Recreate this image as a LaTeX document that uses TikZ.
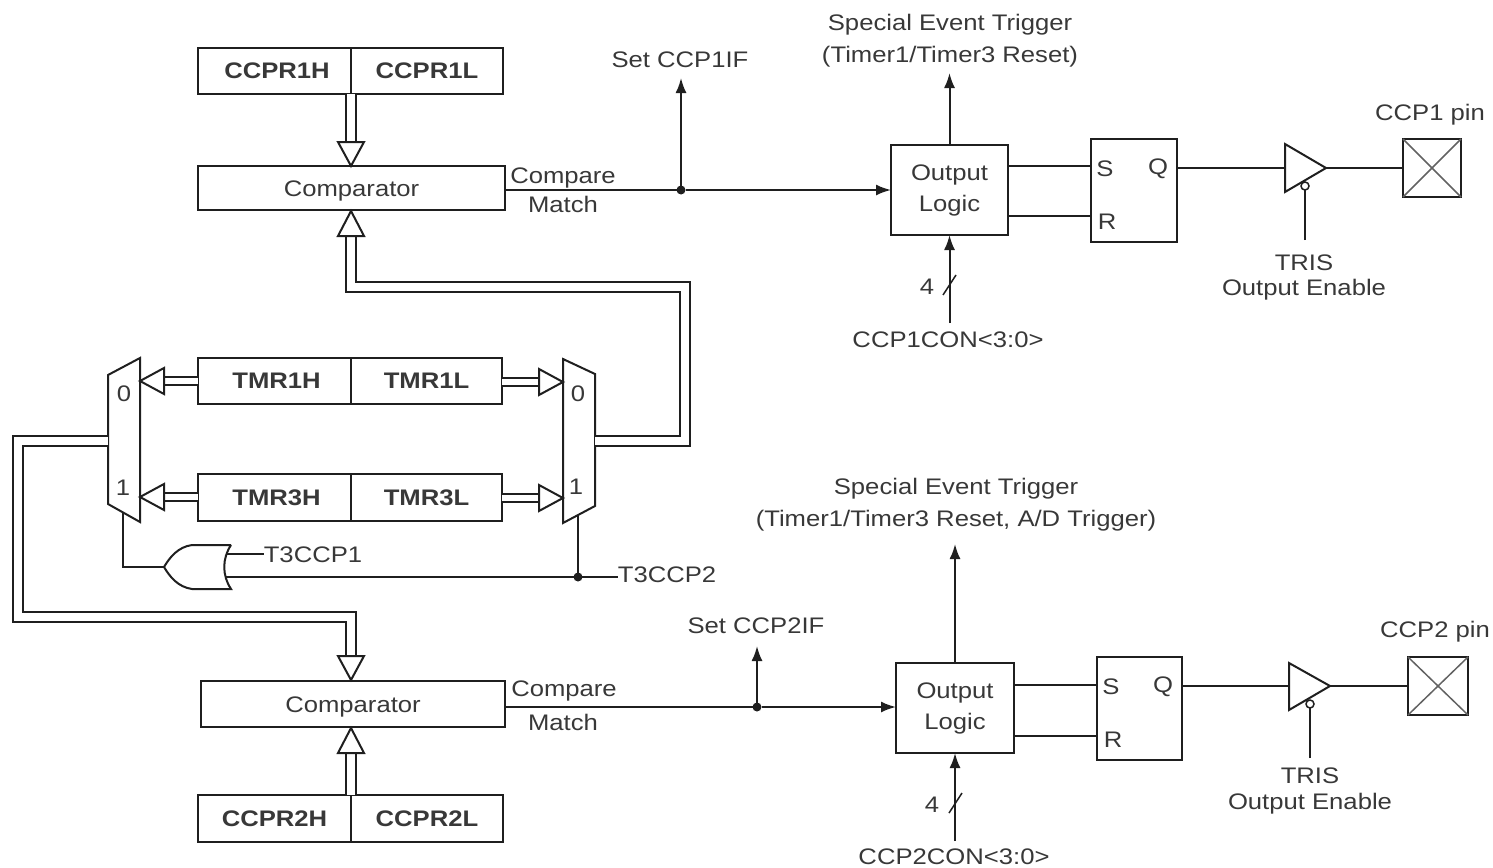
\documentclass[tikz,border=0pt]{standalone}
\usepackage{fontspec}
\setmainfont[FakeStretch=1.14]{Liberation Sans}
\usetikzlibrary{arrows.meta}
\definecolor{ink}{gray}{0.12}
\definecolor{txt}{gray}{0.22}
\tikzset{
  every node/.style={inner sep=0pt,outer sep=0pt,text=txt,font=\fontsize{22.5}{27}\selectfont},
  wire/.style={draw=ink,line width=2pt},
  sig/.style={wire,-{Latex[length=15pt,width=11pt]}},
  bus/.style={draw=ink,double=white,double distance=7.5pt,line width=2pt},
  hbus/.style={bus,double distance=6pt},
  head/.style={draw=ink,fill=white,line width=2pt,line join=miter},
  box/.style={draw=ink,line width=2pt,rectangle,anchor=north west},
  cmp/.style={box,text height=16pt,text depth=0pt},
  reg/.style={box,font=\fontsize{22.5}{27}\selectfont\bfseries},
  lbl/.style={align=center},
  dot/.style={circle,fill=ink,minimum size=9pt},
  pin/.style={draw=ink,line width=2pt,rectangle,anchor=north west},
  cross/.style={draw=ink!70,line width=1.5pt},
  bubble/.style={circle,draw=ink,line width=1.5pt,fill=white,minimum size=8pt},
}
\newcommand{\headD}[1]{\draw[head] ([xshift=-13pt,yshift=24pt]#1) -- (#1) -- ([xshift=13pt,yshift=24pt]#1) -- cycle;}
\newcommand{\headU}[1]{\draw[head] ([xshift=-13pt,yshift=-25pt]#1) -- (#1) -- ([xshift=13pt,yshift=-25pt]#1) -- cycle;}
\newcommand{\headL}[1]{\draw[head] ([xshift=24pt,yshift=13pt]#1) -- (#1) -- ([xshift=24pt,yshift=-13pt]#1) -- cycle;}
\newcommand{\headR}[1]{\draw[head] ([xshift=-24pt,yshift=13pt]#1) -- (#1) -- ([xshift=-24pt,yshift=-13pt]#1) -- cycle;}
\begin{document}
\begin{tikzpicture}[x=1pt,y=-1pt]
\useasboundingbox (0,0) rectangle (1493,867);
% registers
\node[reg,minimum width=153pt,minimum height=46pt] (ccpr1h) at (198,48) {\hspace*{5pt}CCPR1H};
\node[reg,minimum width=152pt,minimum height=46pt] (ccpr1l) at (351,48) {CCPR1L};
\node[cmp,minimum width=307pt,minimum height=44pt] (comp1) at (198,166) {Comparator};
\node[reg,minimum width=153pt,minimum height=46pt] (tmr1h) at (198,358) {\hspace*{4pt}TMR1H};
\node[reg,minimum width=151pt,minimum height=46pt] (tmr1l) at (351,358) {TMR1L};
\node[reg,minimum width=153pt,minimum height=47pt] (tmr3h) at (198,474) {\hspace*{4pt}TMR3H};
\node[reg,minimum width=151pt,minimum height=47pt] (tmr3l) at (351,474) {TMR3L};
\node[cmp,minimum width=304pt,minimum height=46pt] (comp2) at (201,681) {Comparator};
\node[reg,minimum width=153pt,minimum height=47pt] (ccpr2h) at (198,795) {CCPR2H};
\node[reg,minimum width=152pt,minimum height=47pt] (ccpr2l) at (351,795) {CCPR2L};
% multiplexers
\draw[wire,line join=miter] (108,375) -- (140,358) -- (140,522) -- (108,504) -- cycle;
\draw[wire,line join=miter] (563,359) -- (595,374) -- (595,506) -- (563,523) -- cycle;
\node (m0l) at (124,394) {0};
\node (m1l) at (123,488) {1};
\node (m0r) at (578,394) {0};
\node (m1r) at (576,487) {1};
\coordinate (mlA) at (140,381);
\coordinate (mlB) at (140,497);
\coordinate (mrA) at (563,382);
\coordinate (mrB) at (563,498);
\coordinate (mlO) at (108,441);
\coordinate (mrO) at (595,441);
\coordinate (mlS) at (123,513);
\coordinate (mrS) at (578,515);
% buses
\coordinate (c1tip) at (351,166);
\coordinate (c1bot) at (351,211);
\coordinate (c2tip) at (351,680);
\coordinate (c2bot) at (351,728);
\draw[bus] (ccpr1h.south east) -- ([yshift=22pt]c1tip);
\headD{c1tip}
\draw[bus] (mrO) -- (685,441) -- (685,287) -- (351,287) -- ([yshift=-24pt]c1bot);
\headU{c1bot}
\draw[bus] (mlO) -- (18,441) -- (18,617) -- (351,617) -- ([yshift=22pt]c2tip);
\headD{c2tip}
\draw[bus] (ccpr2h.north east) -- ([yshift=-24pt]c2bot);
\headU{c2bot}
\draw[hbus] (tmr1h.west |- mlA) -- ([xshift=22pt]mlA);
\headL{mlA}
\draw[hbus] (tmr3h.west |- mlB) -- ([xshift=22pt]mlB);
\headL{mlB}
\draw[hbus] (tmr1l.east |- mrA) -- ([xshift=-22pt]mrA);
\headR{mrA}
\draw[hbus] (tmr3l.east |- mrB) -- ([xshift=-22pt]mrB);
\headR{mrB}
% OR gate
\draw[wire,fill=white] (231,545) -- (192,545) .. controls (178,547) and (170,557) .. (164,567) .. controls (170,577) and (178,587) .. (192,589) -- (231,589) .. controls (222,575) and (222,559) .. (231,545);
\coordinate (orOut) at (164,567);
\coordinate (orA) at (226,554);
\coordinate (orB) at (226,577);
\node[lbl] (t1) at (313,555) {T3CCP1};
\node[lbl] (t2) at (667,575) {T3CCP2};
\draw[wire] (orA) -- (orA -| t1.west);
\draw[wire] (orB) -- (orB -| t2.west);
\node[dot] (j0) at (578,577) {};
\draw[wire] (mrS) -- (j0);
\draw[wire] (mlS) |- (orOut);
% upper channel
\node[box,minimum width=117pt,minimum height=90pt,align=center] (ol1) at (891,145) {Output\\[4pt]Logic};
\node[box,minimum width=86pt,minimum height=103pt] (sr1) at (1091,139) {};
\node (s1) at (1105,169) {S};
\node (r1) at (1107,222) {R};
\node (q1) at (1158,169) {Q};
\node[pin,minimum width=58pt,minimum height=58pt] (pin1) at (1403,139) {};
\draw[cross] (pin1.north west) -- (pin1.south east);
\draw[cross] (pin1.north east) -- (pin1.south west);
\node[dot] (j1) at (681,190) {};
\node[lbl] (cm1a) at (563,178) {Compare};
\node[lbl] (cm1b) at (563,204) {Match};
\node[lbl] (ccp1if) at (680,60) {Set CCP1IF};
\node[lbl,align=center] (se1) at (950,41) {Special Event Trigger\\[5pt](Timer1/Timer3 Reset)};
\node[lbl] (pn1) at (1430,115) {CCP1 pin};
\node[lbl,align=center] (tr1) at (1304,277) {TRIS\\[-2pt]Output Enable};
\node[lbl] (con1) at (948,340) {CCP1CON<3:0>};
\node[lbl] (four1) at (927,287) {4};
\coordinate (f1) at (681,78);
\coordinate (se1t) at (949.5,73);
\coordinate (con1s) at (949.5,323);
\draw[wire] (comp1.east |- j1) -- (j1);
\draw[sig] (j1) -- (ol1.west |- j1);
\draw[sig] (j1) -- (f1);
\draw[sig] (ol1.north) -- (se1t);
\draw[sig] (con1s) -- (ol1.south);
\draw[wire,line width=1.5pt] (943,295) -- (956,275);
\draw[wire] (ol1.east |- 0,166) -- (sr1.west |- 0,166);
\draw[wire] (ol1.east |- 0,216) -- (sr1.west |- 0,216);
\draw[wire,line join=miter] (1285,144) -- (1326,168) -- (1285,192) -- cycle;
\coordinate (b1in) at (1285,168);
\coordinate (b1out) at (1326,168);
\draw[wire] (sr1.east |- b1in) -- (b1in);
\draw[wire] (b1out) -- (pin1.west |- b1out);
\node[bubble] (bb1) at (1305,186) {};
\coordinate (tr1s) at (1305,240);
\draw[wire] (tr1s) -- (bb1.south);
% lower channel
\node[box,minimum width=118pt,minimum height=90pt,align=center] (ol2) at (896,663) {Output\\[4pt]Logic};
\node[box,minimum width=85pt,minimum height=103pt] (sr2) at (1097,657) {};
\node (s2) at (1111,687) {S};
\node (r2) at (1113,740) {R};
\node (q2) at (1163,687) {Q};
\node[pin,minimum width=60pt,minimum height=58pt] (pin2) at (1408,657) {};
\draw[cross] (pin2.north west) -- (pin2.south east);
\draw[cross] (pin2.north east) -- (pin2.south west);
\node[dot] (j2) at (757,707) {};
\node[lbl] (cm2a) at (564,691) {Compare};
\node[lbl] (cm2b) at (563,722) {Match};
\node[lbl] (ccp2if) at (756,626) {Set CCP2IF};
\node[lbl,align=center] (se2) at (956,505) {Special Event Trigger\\[5pt](Timer1/Timer3 Reset, A/D Trigger)};
\node[lbl] (pn2) at (1435,632) {CCP2 pin};
\node[lbl,align=center] (tr2) at (1310,791) {TRIS\\[-1pt]Output Enable};
\node[lbl] (con2) at (954,857) {CCP2CON<3:0>};
\node[lbl] (four2) at (932,805) {4};
\coordinate (f2) at (757,646);
\coordinate (se2t) at (955,544);
\coordinate (con2s) at (955,841);
\draw[wire] (comp2.east |- j2) -- (j2);
\draw[sig] (j2) -- (ol2.west |- j2);
\draw[sig] (j2) -- (f2);
\draw[sig] (ol2.north) -- (se2t);
\draw[sig] (con2s) -- (ol2.south);
\draw[wire,line width=1.5pt] (949,813) -- (962,793);
\draw[wire] (ol2.east |- 0,685) -- (sr2.west |- 0,685);
\draw[wire] (ol2.east |- 0,736) -- (sr2.west |- 0,736);
\draw[wire,line join=miter] (1289,663) -- (1330,686) -- (1289,710) -- cycle;
\coordinate (b2in) at (1289,686);
\coordinate (b2out) at (1330,686);
\draw[wire] (sr2.east |- b2in) -- (b2in);
\draw[wire] (b2out) -- (pin2.west |- b2out);
\node[bubble] (bb2) at (1310,704) {};
\coordinate (tr2s) at (1310,758);
\draw[wire] (tr2s) -- (bb2.south);
\end{tikzpicture}
\end{document}
